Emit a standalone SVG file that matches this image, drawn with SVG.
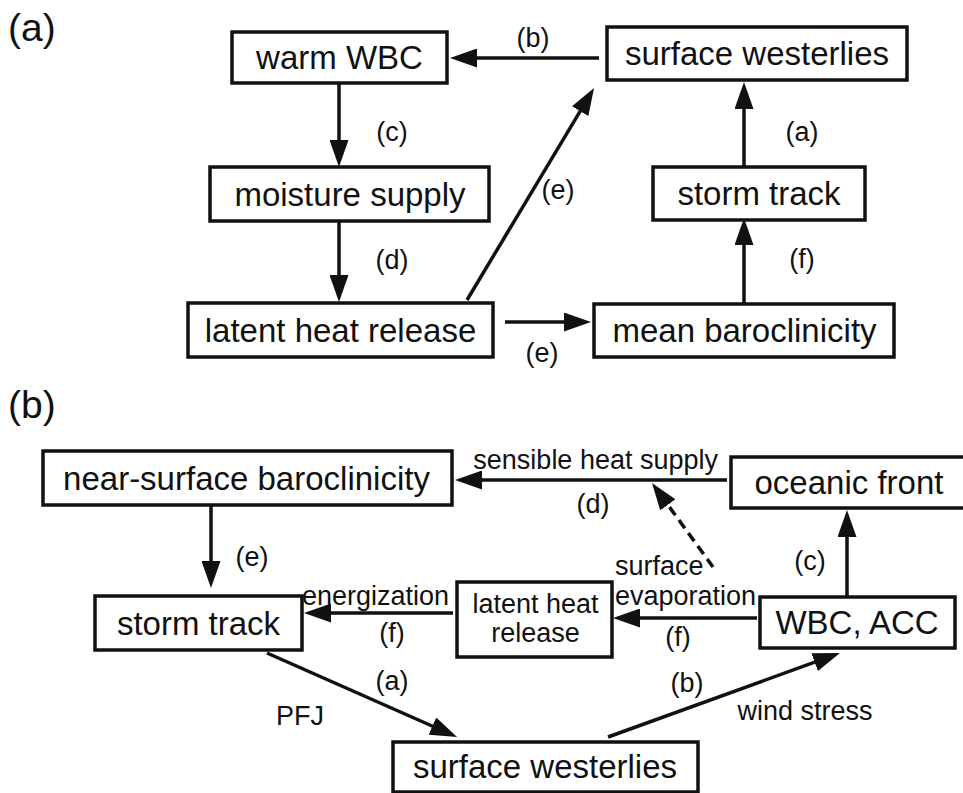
<svg xmlns="http://www.w3.org/2000/svg" width="963" height="793" viewBox="0 0 963 793">
<style>
.box{fill:#fff;stroke:#111;stroke-width:3.5}
.bt{font-family:"Liberation Sans",Arial,sans-serif;font-size:33px;fill:#111;text-anchor:middle}
.lb{font-family:"Liberation Sans",Arial,sans-serif;font-size:27px;fill:#111;text-anchor:middle}
.ttl{font-family:"Liberation Sans",Arial,sans-serif;font-size:39px;fill:#111}
.ln{stroke:#111;stroke-width:3.5;fill:none;marker-end:url(#ah)}
.dash{stroke-dasharray:10 6}
</style>
<defs>
<marker id="ah" markerUnits="userSpaceOnUse" markerWidth="27" markerHeight="19" refX="17" refY="9.5" orient="auto" viewBox="0 0 27 19">
<path d="M0,0 L27,9.5 L0,19 Z" fill="#111"/>
</marker>
</defs>
<text class="ttl" x="8" y="41">(a)</text>
<text class="ttl" x="8" y="418">(b)</text>
<g id="connectors">
<line class="ln" x1="599" y1="58" x2="460" y2="58"/>
<line class="ln" x1="339" y1="83" x2="339" y2="157"/>
<line class="ln" x1="339" y1="221" x2="339" y2="292"/>
<line class="ln" x1="744" y1="167" x2="744" y2="92"/>
<line class="ln" x1="744" y1="304" x2="744" y2="228"/>
<line class="ln" x1="467" y1="300" x2="588.9" y2="96.6"/>
<line class="ln" x1="505" y1="322" x2="581" y2="322"/>
<line class="ln" x1="727" y1="480" x2="465" y2="480"/>
<line class="ln dash" x1="713" y1="567" x2="657.9" y2="491.1"/>
<line class="ln" x1="847" y1="597" x2="847" y2="520"/>
<line class="ln" x1="757" y1="618" x2="623" y2="618"/>
<line class="ln" x1="453" y1="613" x2="314" y2="613"/>
<line class="ln" x1="211" y1="505" x2="211" y2="578"/>
<line class="ln" x1="267" y1="653" x2="447.9" y2="733"/>
<line class="ln" x1="608" y1="737" x2="830.6" y2="656.4"/>
<text class="lb" x="533" y="47">(b)</text>
<text class="lb" x="392" y="141">(c)</text>
<text class="lb" x="392" y="269">(d)</text>
<text class="lb" x="802" y="141">(a)</text>
<text class="lb" x="802" y="268">(f)</text>
<text class="lb" x="558" y="199">(e)</text>
<text class="lb" x="542" y="362">(e)</text>
<text class="lb" x="718" y="469" style="text-anchor:end">sensible heat supply</text>
<text class="lb" x="593" y="513">(d)</text>
<text class="lb" x="615" y="575" style="text-anchor:start">surface</text>
<text class="lb" x="615" y="605" style="text-anchor:start">evaporation</text>
<text class="lb" x="810" y="570">(c)</text>
<text class="lb" x="375.5" y="605">energization</text>
<text class="lb" x="392" y="642">(f)</text>
<text class="lb" x="678" y="646">(f)</text>
<text class="lb" x="252" y="566">(e)</text>
<text class="lb" x="392" y="690">(a)</text>
<text class="lb" x="300" y="725">PFJ</text>
<text class="lb" x="687" y="692">(b)</text>
<text class="lb" x="805" y="720">wind stress</text>
</g>
<g id="warm-wbc"><rect class="box" x="232" y="32" width="215" height="51"/><text class="bt" x="339.5" y="69">warm WBC</text></g>
<g id="surface-westerlies-a"><rect class="box" x="607" y="27" width="300" height="53"/><text class="bt" x="757" y="65">surface westerlies</text></g>
<g id="moisture-supply"><rect class="box" x="210" y="167" width="279" height="54"/><text class="bt" x="350" y="205.5">moisture supply</text></g>
<g id="storm-track-a"><rect class="box" x="653" y="167" width="212" height="53"/><text class="bt" x="759" y="205">storm track</text></g>
<g id="latent-heat-release-a"><rect class="box" x="188" y="303" width="305" height="54"/><text class="bt" x="340.5" y="341.5">latent heat release</text></g>
<g id="mean-baroclinicity"><rect class="box" x="594" y="304" width="300" height="53"/><text class="bt" x="744.5" y="342">mean baroclinicity</text></g>
<g id="near-surface-baroclinicity"><rect class="box" x="43" y="451" width="409" height="54"/><text class="bt" x="246.5" y="489.5">near-surface baroclinicity</text></g>
<g id="oceanic-front"><rect class="box" x="731" y="457" width="234" height="51"/><text class="bt" x="849" y="494">oceanic front</text></g>
<g id="wbc-acc"><rect class="box" x="760" y="597" width="195" height="51"/><text class="bt" x="857" y="634">WBC, ACC</text></g>
<g id="latent-heat-release-b"><rect class="box" x="457" y="582" width="155" height="75"/><text class="lb" x="535.5" y="613">latent heat</text><text class="lb" x="535.5" y="642">release</text></g>
<g id="storm-track-b"><rect class="box" x="95" y="596" width="207" height="54"/><text class="bt" x="198.5" y="634.5">storm track</text></g>
<g id="surface-westerlies-b"><rect class="box" x="393" y="742" width="305" height="50"/><text class="bt" x="545" y="778">surface westerlies</text></g>
</svg>
